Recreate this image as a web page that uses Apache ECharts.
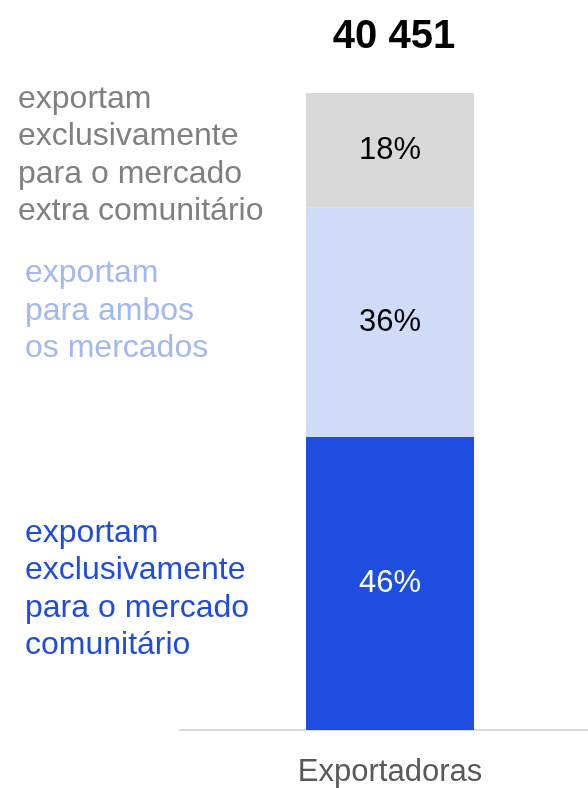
<!DOCTYPE html>
<html>
<head>
<meta charset="utf-8">
<script src="https://cdn.jsdelivr.net/npm/echarts@6/dist/echarts.min.js"></script>
<style>html,body{margin:0;padding:0;background:#fff;overflow:hidden}#c{width:600px;height:788px}</style>
</head>
<body>
<div id="c"></div>
<script>
const categories = ['Exportadoras'];
const totalLabel = '40 451';
const seriesNames = ['exportam\nexclusivamente\npara o mercado\ncomunitário', 'exportam\npara ambos\nos mercados', 'exportam\nexclusivamente\npara o mercado\nextra comunitário'];
const comunitario = [46];
const ambos = [36];
const extraComunitario = [18];

const FONT = '"Liberation Sans", Arial, sans-serif';
const barColors = ['#1e4ddf', '#cfdbf7', '#d9d9d9'];
const labelColors = ['#ffffff', '#000000', '#000000'];
const sideColors = ['#1e4cdc', '#a3b7f1', '#808080'];
const sideX = [25, 25, 18];
const sideDy = [5.5, -11.5, 5];
const values = [comunitario, ambos, extraComunitario];

const chart = echarts.init(document.getElementById('c'), null, {renderer: 'canvas'});
const option = {
  animation: false,
  title: {
    text: totalLabel, left: 389, top: 12, textAlign: 'center',
    textStyle: {fontFamily: FONT, fontSize: 40, fontWeight: 'bold', color: '#000'}
  },
  grid: {left: 180, right: 0, top: 93, bottom: 54},
  xAxis: {
    type: 'category', data: categories,
    axisLine: {lineStyle: {color: '#d9d9d9', width: 2}},
    axisTick: {show: false},
    axisLabel: {fontFamily: FONT, fontSize: 31, color: '#595959', margin: 27}
  },
  yAxis: {type: 'value', min: 0, max: 100, show: false, splitLine: {show: false}},
  series: values.map((v, i) => ({
    type: 'bar', name: seriesNames[i], stack: 'total', data: v, barWidth: 168,
    itemStyle: {color: barColors[i]},
    label: {show: true, position: 'inside', formatter: '{c}%', fontFamily: FONT, fontSize: 31, color: labelColors[i]}
  }))
};
chart.setOption(option);

// side labels, vertically centred on each segment via the chart's own scale
let base = 0;
const graphics = [];
values.forEach((v, i) => {
  const mid = base + v[0] / 2;
  base += v[0];
  const py = chart.convertToPixel({gridIndex: 0}, [0, mid])[1];
  graphics.push({
    type: 'text', left: sideX[i], top: py + sideDy[i] - (seriesNames[i].split('\n').length * 37.5) / 2,
    style: {text: seriesNames[i], fontFamily: FONT, fontSize: 32, lineHeight: 37.5, fill: sideColors[i]}
  });
});
chart.setOption({graphic: graphics});
</script>
</body>
</html>
